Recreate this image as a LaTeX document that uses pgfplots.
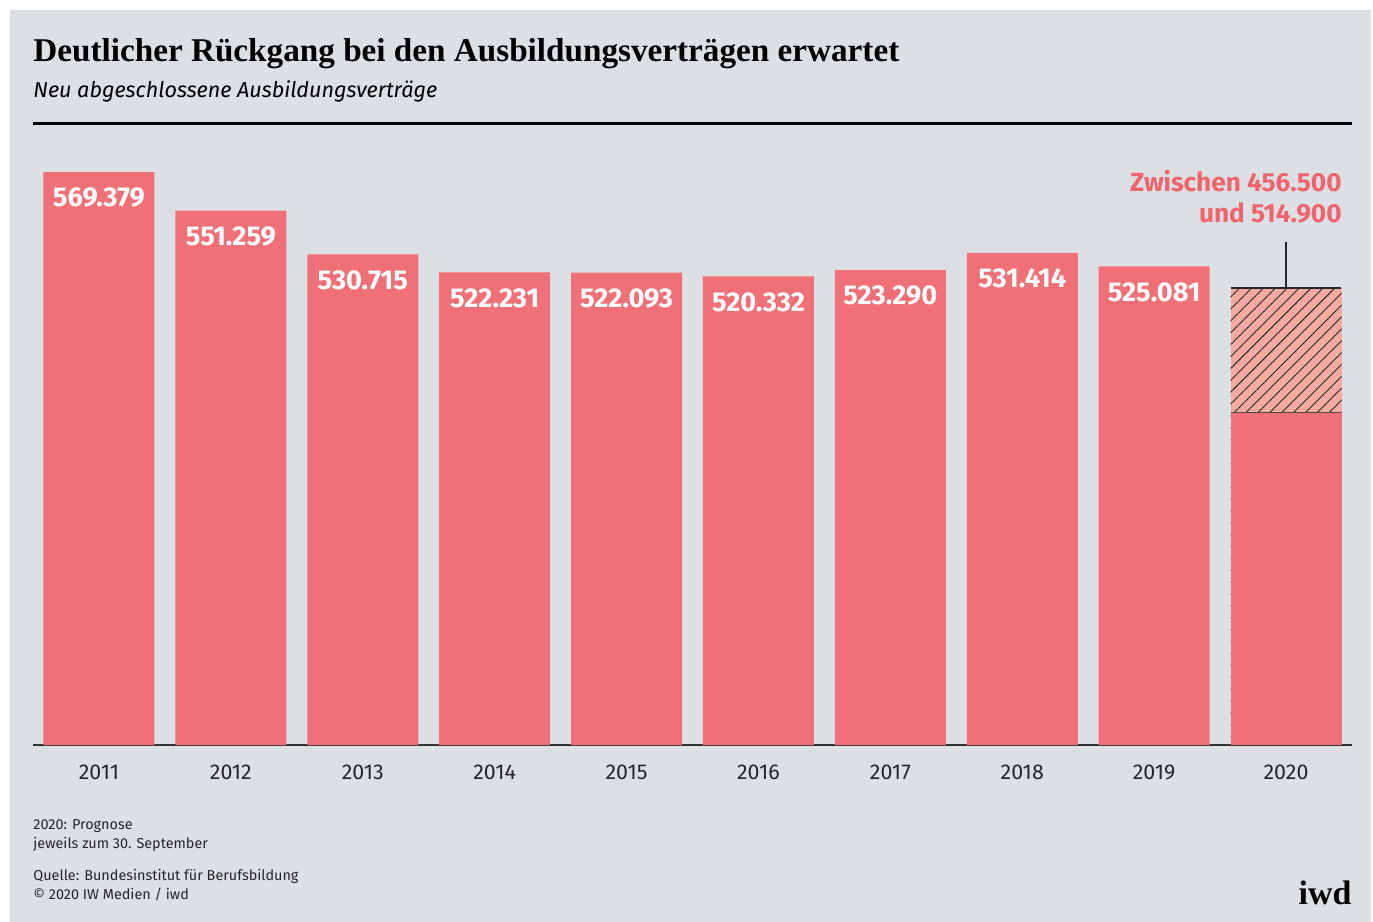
\documentclass[border=0pt]{standalone}
\usepackage{pgfplots}
\pgfplotsset{compat=1.18}
\usepackage{fontspec}
\setmainfont{Fira Sans}
\newfontfamily\titlefont{Liberation Serif}
\usetikzlibrary{patterns.meta}
\definecolor{bg}{HTML}{DCDFE3}
\definecolor{barred}{HTML}{F07078}
\definecolor{hatchbg}{HTML}{F5AAA0}
\definecolor{annot}{HTML}{F0646E}
\definecolor{axisgray}{HTML}{333333}
\begin{document}
\begin{tikzpicture}
% page frame
\fill[white] (0,0) rectangle (686.5pt,-461pt);
\fill[bg] (5pt,-5pt) rectangle (685.5pt,-461pt);
% title and subtitle
\node[anchor=west, inner sep=0pt] at (16.5pt,-27pt) {\titlefont\bfseries\fontsize{16.6}{19}\selectfont Deutlicher Rückgang bei den Ausbildungsverträgen erwartet};
\node[anchor=west, inner sep=0pt] at (16.5pt,-45.5pt) {\itshape\fontsize{10.8}{13}\selectfont Neu abgeschlossene Ausbildungsverträge};
\fill[black] (16.5pt,-60.75pt) rectangle (676pt,-62.25pt);
\begin{axis}[
  at={(16.5pt,-372.5pt)}, anchor=south west,
  scale only axis, width=659.5pt, height=319pt,
  xmin=-0.5, xmax=9.5, ymin=300000, ymax=600000,
  axis x line=bottom, axis y line=none,
  axis line style={draw=axisgray, line width=0.9pt, -},
  xtick={0,...,9},
  xticklabels={2011,2012,2013,2014,2015,2016,2017,2018,2019,2020},
  major tick length=0pt,
  xticklabel style={anchor=base, yshift=-17.3pt, font=\fontsize{10.7}{12}\selectfont, text=black!85},
  ybar, bar width=55.5pt, bar shift=0pt,
  clip=false,
]
\addplot[draw=none, fill=barred,
  point meta=explicit symbolic,
  nodes near coords,
  nodes near coords style={anchor=center, yshift=-12.8pt, text=white, font=\bfseries\fontsize{13.6}{15}\selectfont}]
  table[meta=label] {
  x y label
  0 569379 569.379
  1 551259 551.259
  2 530715 530.715
  3 522231 522.231
  4 522093 522.093
  5 520332 520.332
  6 523290 523.290
  7 531414 531.414
  8 525081 525.081
  };
% 2020 forecast range (hatched)
\addplot[draw=none, fill=hatchbg,
  postaction={pattern={Lines[angle=45,distance=4.2pt,line width=0.45pt]}, pattern color=black!85}]
  coordinates {(9,514900)};
% 2020 lower bound (solid)
\addplot[draw=none, fill=barred] coordinates {(9,456500)};
\draw[black!85, line width=0.6pt] (axis cs:8.58,514900) -- (axis cs:9.42,514900);
\draw[black!70, line width=0.6pt] (axis cs:8.58,456500) -- (axis cs:9.42,456500);
\draw[black!85, line width=0.6pt] (axis cs:9,514900) -- (axis cs:9,536500);
\end{axis}
% annotation
\node[anchor=east, inner sep=0pt, text=annot, font=\bfseries\fontsize{13.1}{15}\selectfont] at (671pt,-90.5pt) {Zwischen 456.500};
\node[anchor=east, inner sep=0pt, text=annot, font=\bfseries\fontsize{13.1}{15}\selectfont] at (671pt,-106.5pt) {und 514.900};
% footnotes
\begin{scope}[every node/.style={anchor=west, inner sep=0pt, font=\fontsize{7.2}{8}\selectfont, text=black!85}]
\node at (16.5pt,-413pt) {2020: Prognose};
\node at (16.5pt,-422pt) {jeweils zum 30. September};
\node at (16.5pt,-438pt) {Quelle: Bundesinstitut für Berufsbildung};
\node at (16.5pt,-447pt) {© 2020 IW Medien / iwd};
\end{scope}
\node[anchor=east, inner sep=0pt] at (676pt,-446.5pt) {\titlefont\bfseries\fontsize{17}{19}\selectfont iwd};
\end{tikzpicture}
\end{document}
